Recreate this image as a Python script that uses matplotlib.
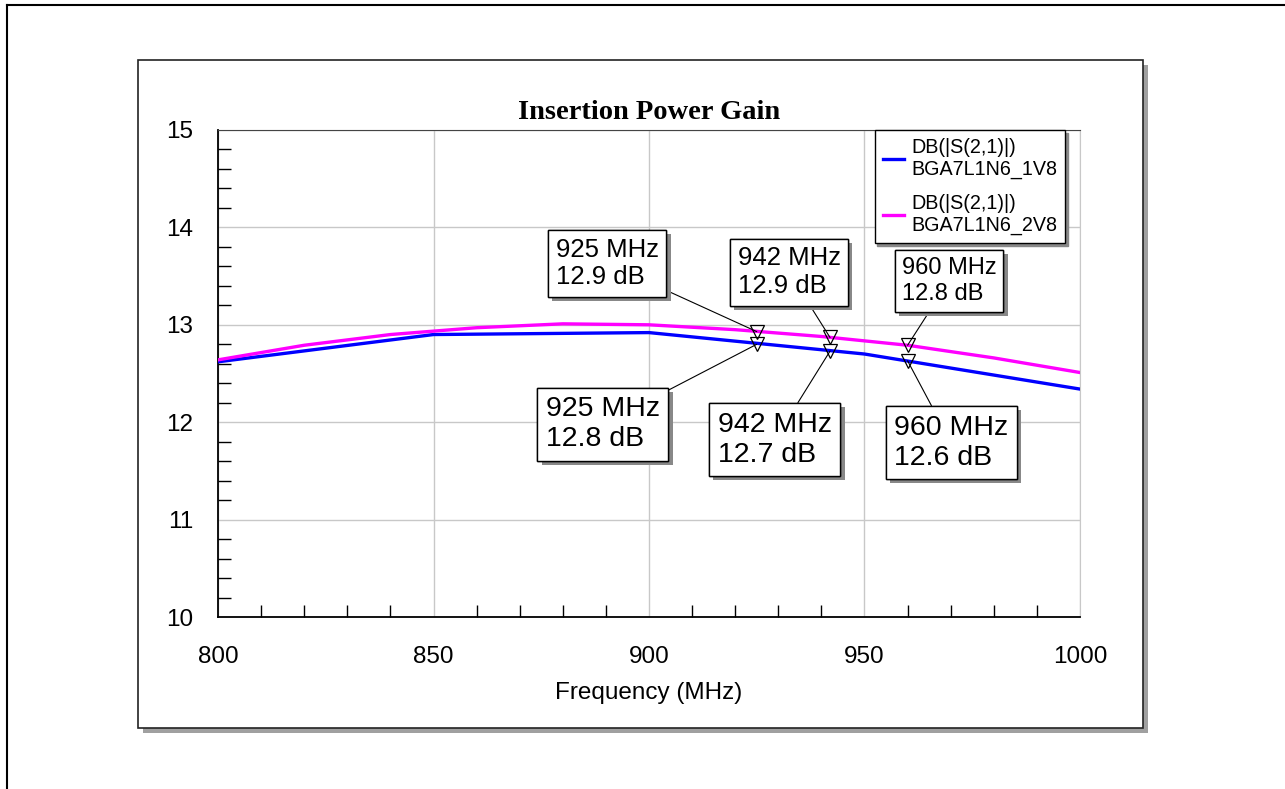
import matplotlib
matplotlib.use('Agg')
import matplotlib.pyplot as plt
from matplotlib import patheffects
from matplotlib.patches import Rectangle
from matplotlib.lines import Line2D
from matplotlib.ticker import MultipleLocator

plt.rcParams['font.family'] = ['Liberation Sans', 'DejaVu Sans']

# S21 traces (dB) vs frequency (MHz)
freq_1v8 = [800, 850, 900, 950, 1000]
gain_1v8 = [12.62, 12.90, 12.92, 12.70, 12.34]

freq_2v8 = [800, 820, 840, 860, 880, 900, 920, 940, 960, 980, 1000]
gain_2v8 = [12.64, 12.79, 12.90, 12.97, 13.01, 13.00, 12.95, 12.88, 12.79, 12.66, 12.51]

# marker readouts
marker_freq = [925, 942, 960]
marker_1v8 = [12.8, 12.73, 12.63]
marker_2v8 = [12.93, 12.87, 12.79]

# where each readout box sits (data coords) and its font size
box_2v8 = [(890.3, 13.63, 18.5), (932.5, 13.54, 18.5), (969.6, 13.45, 17)]
box_1v8 = [(889.3, 11.98, 20.5), (929.2, 11.82, 20.5), (970.1, 11.79, 20.5)]

fig = plt.figure(figsize=(12.85, 7.89), dpi=100)

# outer page frame
fig.add_artist(Line2D([7 / 1285, 1], [1 - 5 / 789, 1 - 5 / 789], color='black', lw=1.5,
                      transform=fig.transFigure))
fig.add_artist(Line2D([7 / 1285, 7 / 1285], [0, 1 - 5 / 789], color='black', lw=1.5,
                      transform=fig.transFigure))

# graph panel with drop shadow
px0, py0, pw, ph = 138 / 1285, 1 - 728 / 789, (1143 - 138) / 1285, (728 - 60) / 789
fig.add_artist(Rectangle((px0 + 5 / 1285, py0 - 5 / 789), pw, ph, transform=fig.transFigure,
                         facecolor='#a0a0a0', edgecolor='none', zorder=0))
fig.add_artist(Rectangle((px0, py0), pw, ph, transform=fig.transFigure,
                         facecolor='white', edgecolor='#222222', lw=1.2, zorder=0.5))

ax = fig.add_axes([218 / 1285, 1 - 617 / 789, 862 / 1285, 487 / 789])
ax.set_zorder(2)

ax.plot(freq_1v8, gain_1v8, color='#0000ff', lw=2.4, label='DB(|S(2,1)|)\nBGA7L1N6_1V8', zorder=3)
ax.plot(freq_2v8, gain_2v8, color='#ff00ff', lw=2.4, label='DB(|S(2,1)|)\nBGA7L1N6_2V8', zorder=3)

ax.plot(marker_freq, marker_2v8, 'v', ms=10, mfc='none', mec='black', mew=0.9, zorder=4)
ax.plot(marker_freq, marker_1v8, 'v', ms=10, mfc='none', mec='black', mew=0.9, zorder=4)

shadow = [patheffects.withSimplePatchShadow(offset=(3, -3), shadow_rgbFace='#888888', alpha=1),
          patheffects.Normal()]

def readout(f, g, pos):
    bx, by, fs = pos
    txt = f"{f} MHz\n{g:.1f} dB"
    ann = ax.annotate(txt, xy=(f, g), xytext=(bx, by), textcoords='data',
                      ha='center', va='center', multialignment='left', fontsize=fs,
                      linespacing=1.2,
                      bbox=dict(boxstyle='square,pad=0.3', fc='white', ec='black', lw=1),
                      arrowprops=dict(arrowstyle='-', color='black', lw=0.8,
                                      shrinkA=0, shrinkB=0),
                      zorder=5)
    ann.get_bbox_patch().set_path_effects(shadow)

for f, g, pos in zip(marker_freq, marker_2v8, box_2v8):
    readout(f, g, pos)
for f, g, pos in zip(marker_freq, marker_1v8, box_1v8):
    readout(f, g, pos)

ax.set_xlim(800, 1000)
ax.set_ylim(10, 15)
ax.xaxis.set_major_locator(MultipleLocator(50))
ax.xaxis.set_minor_locator(MultipleLocator(10))
ax.yaxis.set_major_locator(MultipleLocator(1))
ax.yaxis.set_minor_locator(MultipleLocator(0.2))
ax.grid(True, which='major', color='#c8c8c8', lw=1)
ax.tick_params(which='major', length=0, pad=18, labelsize=17.5)
ax.tick_params(axis='x', which='major', pad=21)
ax.tick_params(which='minor', direction='in', length=9, width=1, color='black')

for side in ('left', 'bottom'):
    ax.spines[side].set_color('black')
    ax.spines[side].set_linewidth(1.3)
ax.spines['top'].set_color('#444444')
ax.spines['right'].set_color('#c8c8c8')

ax.set_xlabel('Frequency (MHz)', fontsize=17.5, labelpad=10)
ax.set_title('Insertion Power Gain', fontsize=20.5, fontweight='bold',
             family='Liberation Serif', pad=8)

leg = ax.legend(loc='upper right', bbox_to_anchor=(0.9826, 1.0), borderaxespad=0,
                fontsize=14.2, fancybox=False, edgecolor='black', framealpha=1,
                handlelength=1.1, handletextpad=0.35, labelspacing=0.75, borderpad=0.4,
                shadow={'color': '#888888', 'ox': 2, 'oy': -2, 'alpha': 1})
leg.get_frame().set_linewidth(1)
leg.set_zorder(6)

fig.savefig('out.png', dpi=100)
